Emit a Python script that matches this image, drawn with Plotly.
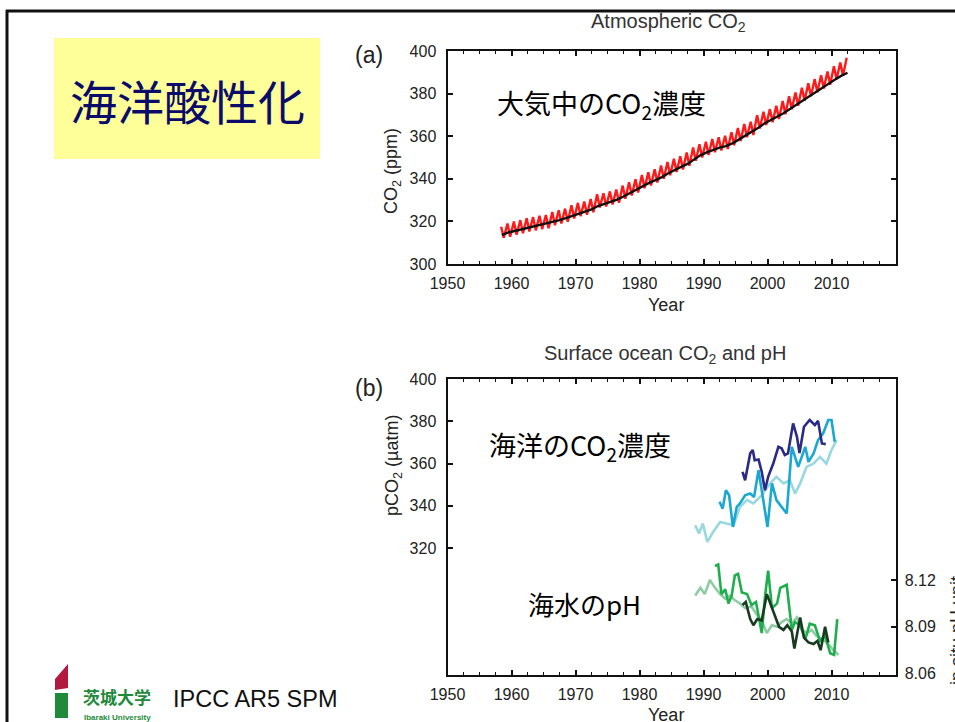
import plotly.graph_objects as go

W, H = 955, 722

# ---- Atmospheric CO2 (ppm) ----
# Mauna Loa: seasonal maximum (May) and minimum (October) for each year
mlo_years = list(range(1958, 2013))
mlo_may = [317.5, 319.0, 319.9, 320.6, 321.5, 322.0, 322.6, 323.0, 324.4, 325.2,
           326.0, 327.6, 328.7, 329.3, 330.5, 332.7, 333.2, 334.1, 335.0, 336.8,
           338.4, 339.8, 341.8, 343.1, 344.5, 346.2, 347.9, 349.4, 350.6, 352.3,
           354.7, 356.2, 357.4, 358.7, 359.5, 360.2, 361.9, 363.9, 365.7, 366.8,
           369.8, 371.5, 372.7, 374.3, 376.5, 378.8, 380.5, 382.8, 384.9, 386.8,
           388.6, 390.4, 392.9, 394.6, 396.8]
mlo_oct = [312.4, 312.8, 313.7, 314.4, 315.3, 315.8, 316.4, 316.8, 318.2, 319.0,
           319.8, 321.4, 322.5, 323.1, 324.3, 326.5, 327.0, 327.9, 328.8, 330.6,
           332.2, 333.6, 335.6, 336.9, 338.3, 340.0, 341.7, 343.2, 344.4, 346.1,
           348.5, 350.0, 351.2, 352.5, 353.3, 354.0, 355.7, 357.7, 359.5, 360.6,
           363.6, 365.3, 366.5, 368.1, 370.3, 372.6, 374.3, 376.6, 378.7, 380.6,
           382.4, 384.2, 386.7, 388.4]
MAY_MID, OCT_MID = 4.5 / 12, 9.5 / 12

# South Pole annual means
spo_years = [y + 0.5 for y in range(1958, 2013)]
spo_co2 = [313.6, 314.8, 315.5, 316.2, 317.0, 317.6, 318.2, 318.9, 319.8, 320.6,
           321.5, 322.6, 323.7, 324.5, 325.6, 327.2, 328.2, 329.2, 330.2, 331.7,
           333.3, 334.8, 336.6, 338.1, 339.4, 340.8, 342.6, 344.2, 345.6, 347.0,
           349.2, 351.0, 352.4, 353.6, 354.6, 355.3, 356.6, 358.4, 360.2, 361.6,
           363.8, 366.0, 367.6, 369.0, 370.8, 372.8, 374.8, 376.8, 378.8, 380.6,
           382.6, 384.4, 386.5, 388.3, 389.8]

# ---- Surface ocean pCO2 (uatm) ----
pco2_light_t = [1988.7, 1989.3, 1989.9, 1990.6, 1991.5, 1992.6, 1993.6, 1994.7,
                1995.7, 1996.8, 1997.8, 1999.1, 2000.4, 2001.4, 2002.5, 2003.5,
                2004.3, 2005.1, 2006.1, 2007.2, 2008.2, 2009.2, 2010.0, 2010.8]
pco2_light_v = [330.8, 326.9, 331.6, 322.9, 327.6, 332.4, 331.6, 330.8,
                339.5, 342.7, 341.1, 345.0, 350.6, 353.7, 350.6, 352.1,
                345.8, 350.6, 358.4, 360.0, 363.2, 360.0, 366.4, 371.1]

pco2_mid_t = [1992.5, 1993.0, 1993.5, 1994.0, 1994.6, 1995.2, 1995.7, 1996.5,
              1997.3, 1997.9, 1998.6, 1999.3, 2000.0, 2000.7, 2001.4, 2002.2,
              2003.0, 2003.8, 2004.8, 2005.9, 2006.4, 2007.2, 2007.9, 2008.7,
              2009.5, 2010.0, 2010.5]
pco2_mid_v = [341.9, 338.7, 347.4, 345.0, 330.0, 339.5, 341.1, 345.0,
              345.8, 344.2, 356.9, 342.7, 330.0, 350.6, 342.7, 339.5,
              336.4, 367.9, 358.4, 367.9, 360.8, 364.8, 371.1, 374.3,
              380.6, 380.6, 370.3]

pco2_dark_t = [1996.1, 1996.5, 1997.3, 1997.7, 1998.0, 1998.6, 1999.1, 1999.6,
               2000.1, 2000.9, 2001.7, 2002.2, 2002.7, 2003.2, 2004.0, 2004.6,
               2005.0, 2005.7, 2006.6, 2007.4, 2007.9, 2008.5, 2009.1]
pco2_dark_v = [356.1, 352.1, 364.8, 366.4, 361.6, 361.9, 356.1, 347.4,
               353.7, 360.0, 367.9, 367.2, 364.0, 364.8, 379.0, 372.7,
               365.0, 377.4, 380.6, 378.2, 380.2, 369.5, 369.2]

# ---- Surface ocean pH (in situ) ----
ph_light_t = [1988.7, 1989.5, 1990.2, 1991.0, 1991.8, 1992.6, 1993.4, 1994.1,
              1994.9, 1995.7, 1996.5, 1997.5, 1998.3, 1999.1, 1999.9, 2000.7,
              2001.5, 2002.2, 2003.0, 2003.8, 2004.6, 2005.4, 2006.2, 2006.9,
              2007.7, 2008.5, 2009.3, 2010.3, 2011.1]
ph_light_v = [8.110, 8.115, 8.111, 8.120, 8.115, 8.111, 8.108, 8.110,
              8.107, 8.105, 8.102, 8.103, 8.098, 8.094, 8.086, 8.091,
              8.090, 8.093, 8.095, 8.092, 8.096, 8.088, 8.086, 8.088,
              8.084, 8.082, 8.080, 8.075, 8.072]

ph_mid_t = [1991.8, 1992.3, 1992.8, 1993.4, 1993.9, 1994.4, 1994.9, 1995.4,
            1996.0, 1996.8, 1997.5, 1998.2, 1999.1, 1999.6, 2000.1, 2000.7,
            2001.5, 2002.0, 2003.0, 2003.8, 2004.3, 2005.1, 2005.9, 2006.6,
            2007.4, 2008.2, 2009.0, 2009.8, 2010.4, 2010.9]
ph_mid_v = [8.129, 8.130, 8.111, 8.114, 8.105, 8.110, 8.123, 8.124,
            8.112, 8.111, 8.104, 8.106, 8.086, 8.109, 8.126, 8.102,
            8.105, 8.115, 8.117, 8.088, 8.093, 8.091, 8.082, 8.092,
            8.091, 8.081, 8.084, 8.073, 8.072, 8.095]

ph_dark_t = [1996.1, 1996.6, 1997.3, 1997.8, 1998.4, 1999.1, 1999.9, 2000.5,
             2001.2, 2001.8, 2002.5, 2003.1, 2003.8, 2004.2, 2005.1, 2005.7,
             2006.4, 2007.2, 2007.8, 2008.3, 2009.0, 2009.5]
ph_dark_v = [8.104, 8.106, 8.095, 8.091, 8.095, 8.094, 8.111, 8.104,
             8.096, 8.090, 8.088, 8.091, 8.087, 8.076, 8.096, 8.083,
             8.080, 8.079, 8.081, 8.075, 8.090, 8.080]

# Axis ticks
year_ticks = [1950, 1960, 1970, 1980, 1990, 2000, 2010]
co2_ticks = [300, 320, 340, 360, 380, 400]
pco2_ticks = [320, 340, 360, 380, 400]
ph_ticks = [8.06, 8.09, 8.12]
ph_labels = ["8.06", "8.09", "8.12"]

# Build the Mauna Loa seasonal zig-zag from its maxima and minima
mlo_t, mlo_v = [], []
for i, yr in enumerate(mlo_years):
    mlo_t.append(yr + MAY_MID)
    mlo_v.append(mlo_may[i])
    if i < len(mlo_oct):
        mlo_t.append(yr + OCT_MID)
        mlo_v.append(mlo_oct[i])


def fx(px):
    return px / W


def fy(py):
    return 1 - py / H


SANS = "Liberation Sans, Arial, sans-serif"
CJK = "Noto Sans CJK JP, sans-serif"

fig = go.Figure()

fig.add_trace(go.Scatter(x=mlo_t, y=mlo_v, mode="lines",
                         line=dict(color="#FF1A1A", width=2.4),
                         xaxis="x", yaxis="y", hoverinfo="skip"))
fig.add_trace(go.Scatter(x=spo_years, y=spo_co2, mode="lines",
                         line=dict(color="#111111", width=2.4),
                         xaxis="x", yaxis="y", hoverinfo="skip"))

for t, v, c in [(pco2_light_t, pco2_light_v, "#9AD8E0"),
                (pco2_mid_t, pco2_mid_v, "#1AA8D2"),
                (pco2_dark_t, pco2_dark_v, "#2B2A86")]:
    fig.add_trace(go.Scatter(x=t, y=v, mode="lines", line=dict(color=c, width=2.6),
                             xaxis="x2", yaxis="y2", hoverinfo="skip"))

for t, v, c in [(ph_light_t, ph_light_v, "#8FCBA3"),
                (ph_mid_t, ph_mid_v, "#1EAE4C"),
                (ph_dark_t, ph_dark_v, "#173A20")]:
    fig.add_trace(go.Scatter(x=t, y=v, mode="lines", line=dict(color=c, width=2.6),
                             xaxis="x2", yaxis="y3", hoverinfo="skip"))

tickfont = dict(family=SANS, size=16, color="#222222")
axis_common = dict(showline=True, linecolor="#111111", linewidth=2,
                   showgrid=False, zeroline=False, ticks="inside",
                   tickcolor="#111111", tickwidth=1.5, ticklen=5,
                   tickfont=tickfont, automargin=False)
xminor = dict(ticks="inside", dtick=2.5, tick0=1950, ticklen=3,
              tickcolor="#111111", tickwidth=1.2)

X_DOM = [fx(447.5), fx(895.5)]

fig.update_layout(
    template="none",
    width=W, height=H,
    margin=dict(l=0, r=0, t=0, b=0, pad=0, autoexpand=False),
    paper_bgcolor="white", plot_bgcolor="white",
    showlegend=False,
    xaxis=dict(domain=X_DOM, anchor="y", range=[1950, 2020],
               tickvals=year_ticks, mirror="ticks", minor=xminor,
               ticklabelstandoff=4, **axis_common),
    yaxis=dict(domain=[fy(264), fy(51)], anchor="x", range=[300, 400],
               tickvals=co2_ticks, mirror="ticks", ticklabelstandoff=6,
               **axis_common),
    xaxis2=dict(domain=X_DOM, anchor="y2", range=[1950, 2020],
                tickvals=year_ticks, mirror="ticks", minor=xminor,
                ticklabelstandoff=4, **axis_common),
    yaxis2=dict(domain=[fy(674.5), fy(379)], anchor="x2", range=[260.2, 400],
                tickvals=pco2_ticks, ticklabelstandoff=6, **axis_common),
    yaxis3=dict(overlaying="y2", anchor="x2", side="right",
                range=[8.0594, 8.249], tickvals=ph_ticks, ticktext=ph_labels,
                ticklabelstandoff=4, **axis_common),
)


def note(text, x, y, size, color="#222222", family=SANS, angle=0,
         yanchor="middle", **kw):
    fig.add_annotation(text=text, x=fx(x), y=fy(y), xref="paper", yref="paper",
                       showarrow=False, textangle=angle,
                       font=dict(family=family, size=size, color=color),
                       xanchor="center", yanchor=yanchor, **kw)


# Panel titles and axis labels
note("Atmospheric CO<sub>2</sub>", 668, 22, 20, color="#333333")
note("Surface ocean CO<sub>2</sub> and pH", 665, 354, 20, color="#333333")
note("(a)", 369, 55, 23)
note("(b)", 369, 388, 23)
note("CO<sub>2</sub> (ppm)", 393, 171, 18, angle=-90)
note("pCO<sub>2</sub> (µatm)", 393, 466, 18, angle=-90)
note("Year", 666, 305, 18)
note("Year", 666, 715, 18)
note("in situ pH unit", 957, 630, 18, angle=-90)

# Japanese captions
note("大気中のCO<sub>2</sub>濃度", 601, 104, 27, color="#000000", family=CJK)
note("海洋のCO<sub>2</sub>濃度", 580, 446, 27, color="#000000", family=CJK)
note("海水のpH", 584, 603, 26, color="#000000", family=CJK)

# Slide heading box
fig.add_shape(type="rect", xref="paper", yref="paper",
              x0=fx(54), x1=fx(320), y0=fy(159), y1=fy(38),
              fillcolor="#FFFF99", line=dict(width=0), layer="below")
note("海洋酸性化", 187, 99, 47, color="#0B0B6A", family=CJK)

# Slide frame
fig.add_shape(type="line", xref="paper", yref="paper",
              x0=fx(6), x1=fx(955), y0=fy(11), y1=fy(11),
              line=dict(color="#111111", width=3))
fig.add_shape(type="line", xref="paper", yref="paper",
              x0=fx(7), x1=fx(7), y0=fy(10), y1=fy(722),
              line=dict(color="#111111", width=3))

# University mark and source
fig.add_shape(type="path", xref="paper", yref="paper",
              path=(f"M {fx(55)} {fy(679)} L {fx(68)} {fy(664)} "
                    f"L {fx(68)} {fy(688)} L {fx(55)} {fy(690)} Z"),
              fillcolor="#B3183E", line=dict(width=0))
fig.add_shape(type="rect", xref="paper", yref="paper",
              x0=fx(55), x1=fx(68), y0=fy(718), y1=fy(693),
              fillcolor="#1E8A3A", line=dict(width=0))
note("<b>茨城大学</b>", 117, 711, 17, color="#1E8A3A", family=CJK,
     yanchor="bottom")
note("<b>Ibaraki University</b>", 117, 711, 8, color="#1E8A3A", yanchor="top")
note("IPCC AR5 SPM", 255, 699, 23.5, color="#111111")

fig.write_html("out.html")
